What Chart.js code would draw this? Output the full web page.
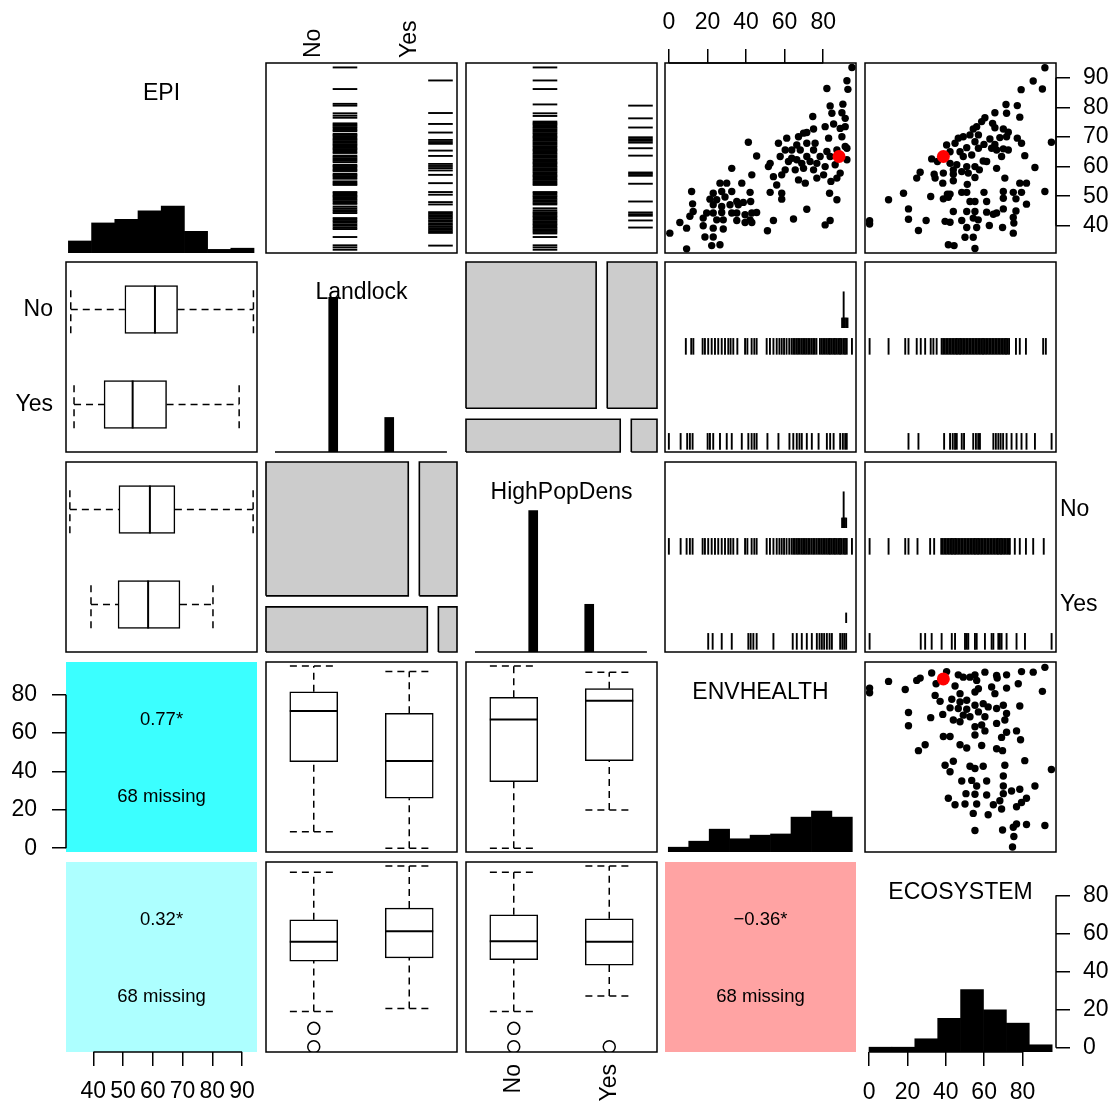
<!DOCTYPE html>
<html>
<head>
<meta charset="utf-8">
<title>EPI generalized pairs plot</title>
<script src="https://cdn.jsdelivr.net/npm/chart.js"></script>
<style>
  html, body { margin: 0; padding: 0; background: #fff; overflow: hidden; }
  #wrap { position: relative; width: 1116px; height: 1108px; overflow: hidden; background: #fff; }
  #wrap canvas { position: absolute; }
</style>
</head>
<body>
<div id="wrap"></div>
<script>
// ---------- data ----------
const yesNo = ["No", "Yes"];
const epiTicks = [40, 50, 60, 70, 80, 90];
const scoreTicks = [0, 20, 40, 60, 80];
const epiRange = [30.8, 95.0];
const envRange = [-2, 97];
const ecoRange = [-2.2, 97.5];

// histograms on the diagonal
const epiBreaks = [31.6, 39.4, 47.2, 55.0, 62.8, 70.6, 78.4, 86.2, 94.0];
const epiCounts = [10, 25, 28, 35, 39, 18, 3, 4];
const envBreaks = [-0.3, 10.3, 20.9, 31.5, 42.1, 52.7, 63.3, 73.9, 84.5, 95.1];
const envCounts = [4, 9, 19, 11, 14, 15, 29, 34, 29];
const ecoBreaks = [-0.1, 11.85, 23.8, 35.75, 47.7, 59.65, 71.6, 83.55, 95.5];
const ecoCounts = [4, 4, 11, 28, 52, 35, 24, 6];

// factor counts and the Landlock x HighPopDens table (rows Landlock, cols HighPopDens)
const landlockCounts = [188, 42];
const popDensCounts = [172, 58];
const landlockByPopDens = [[136, 52], [36, 6]];

// correlations
const corrEpiEnv = 0.77, corrEpiEco = 0.32, corrEnvEco = -0.36;
const missingCount = 68;

// highlighted country
const hiEpi = 63.4, hiEnv = 88.2, hiEco = 38.7;

// box plots: [lower whisker, q1, median, q3, upper whisker], per level No / Yes
const epiByLandlock = [[32.4, 50.6, 60.7, 68.3, 93.8], [33.5, 43.6, 53.2, 64.6, 89.0]];
const epiByPopDens = [[32.1, 48.6, 59.0, 67.4, 93.7], [39.2, 48.3, 58.4, 69.1, 80.2]];
const envByLandlock = [[8.6, 45.1, 71.5, 81.5, 94.9], [0.0, 26.0, 45.4, 70.3, 92.0]];
const envByPopDens = [[0.0, 34.6, 67.1, 78.6, 94.9], [19.9, 45.6, 76.8, 83.1, 91.6]];
const ecoByLandlock = [[19.0, 45.5, 55.6, 67.2, 92.1], [20.6, 47.2, 61.1, 73.3, 95.4]];
const ecoByPopDens = [[19.0, 46.3, 55.9, 69.8, 92.1], [27.2, 43.4, 55.6, 67.7, 95.4]];
const ecoOutByLandlock = [[10.2, 0.6], []];
const ecoOutByPopDens = [[10.2, 0.6], [0.6]];

// barcodes: EPI by factor
const epiLandNo = [93.5, 86.2, 81.2, 80.6, 78.0, 77.2, 76.5,
  74.6, 74.2, 73.8, 73.3, 72.9, 72.4, 72.0, 71.1, 70.7, 70.3, 69.8, 69.4, 69.0, 68.5, 68.1, 67.6, 67.2,
  66.8, 66.3, 65.9, 65.5, 65.0, 64.6, 63.7, 63.3, 62.8, 62.4, 62.0, 61.5, 60.6, 60.2, 59.8, 59.3, 58.9,
  58.5, 57.6, 57.2, 56.8, 56.3, 55.9, 55.0, 54.6, 54.2, 53.8,
  51.4, 51.0, 50.5, 50.1, 49.7, 49.2, 48.8, 48.3, 47.8, 47.4,
  46.5, 45.9, 45.3, 44.8, 44.3,
  42.6, 42.1, 41.6, 41.1, 40.5, 40.0, 39.4, 38.9,
  36.2, 33.4, 32.7, 31.9];
const epiLandYes = [89.1, 78.1, 74.4, 71.5, 69.0, 68.3, 67.7, 65.4, 63.6, 60.9, 60.2, 59.5, 58.7, 57.2,
  54.4, 51.4, 50.5, 48.0, 47.2, 44.6, 44.1, 43.6, 43.0, 42.5, 41.9, 41.4, 40.8, 40.3, 39.7, 39.2, 38.6,
  38.1, 37.6, 33.3];
const epiPopNo = [93.5, 89.1, 86.2, 81.0, 78.0, 77.1,
  75.2, 74.8, 74.4, 74.0, 73.5, 73.1, 72.6, 72.2, 71.8, 71.3, 70.9, 70.4, 70.0, 69.6, 69.1, 68.7, 68.2,
  67.8, 67.4, 66.9, 66.5, 66.0, 65.6, 65.2, 64.7, 64.3, 63.8, 63.4, 63.0, 62.5, 62.1, 61.6, 61.2, 60.8,
  60.3, 59.9, 59.4, 59.0, 58.6, 58.1, 57.7, 57.2, 56.8, 56.4, 55.9, 55.5, 55.0, 54.6, 54.2, 53.8,
  51.4, 51.0, 50.5, 50.0, 49.6, 49.1, 48.6, 48.1, 47.6, 47.2,
  45.9, 45.2, 44.6, 44.2, 43.8, 43.3, 42.9, 42.4, 42.0, 41.5, 41.1, 40.6, 40.2, 39.7, 39.3, 38.8, 38.4,
  37.9, 37.4, 36.2, 33.4, 32.7, 31.9];
const epiPopYes = [80.6, 76.3, 73.2, 69.9, 69.3, 68.7, 68.1, 66.2, 63.7, 58.0, 57.5, 56.9, 54.2, 48.2,
  44.5, 43.9, 43.4, 41.8, 39.4];

// barcodes: ENVHEALTH / ECOSYSTEM by factor (stack2/stack3 are tied values piled above)
const envLandNo = [8.8, 11.6, 12.7, 17.5, 18.7, 20.4, 22.2, 23.9, 25.6, 27.4, 29.1, 30.8, 32.0, 33.4, 35.5,
  39.5, 40.7, 42.9, 44.3, 45.5, 50.7, 52.4, 54.2, 55.9, 57.3, 58.5, 59.7, 61.0, 62.4, 63.6, 64.5, 65.3,
  66.2, 67.0, 67.9, 68.8, 69.6, 70.5, 71.3, 72.2, 73.0, 73.9, 74.8, 75.6, 76.5, 78.3, 79.2, 80.0, 80.9,
  81.8, 82.6, 83.5, 84.4, 85.2, 86.1, 87.0, 87.8, 88.7, 89.5, 90.4, 91.3, 92.2, 94.9];
const envLandNoStack2 = [89.8, 90.5, 91.2, 91.9, 92.6];
const envLandNoStack3 = [90.6];
const envLandYes = [0.0, 6.1, 9.5, 10.9, 12.3, 20.1, 21.3, 23.0, 26.5, 30.0, 32.6, 37.8, 41.2, 42.9, 44.3,
  45.5, 51.1, 56.8, 62.5, 64.5, 66.3, 67.7, 68.9, 71.5, 74.1, 77.6, 81.9, 83.6, 85.4, 88.8, 90.2, 91.4, 92.2];
const ecoLandNo = [0.2, 10.1, 18.8, 20.5, 24.8, 26.9, 29.2, 32.1, 33.5, 35.2,
  37.8, 38.6, 39.4, 40.2, 41.0, 41.8, 42.6, 43.4, 44.2, 45.0, 45.8, 46.6, 47.4, 48.2, 49.0, 49.8, 50.6,
  51.4, 52.2, 53.0, 53.8, 54.6, 55.4, 56.2, 57.0, 57.8, 58.6, 59.4, 60.2, 61.0, 61.8, 62.6, 63.4, 64.2,
  65.0, 65.8, 66.6, 67.4, 68.2, 69.0, 69.8, 70.6, 71.4, 72.2, 73.0,
  76.6, 78.6, 81.8, 90.8, 92.2];
const ecoLandYes = [20.5, 25.7, 39.1, 42.2, 43.6, 44.8, 45.7, 48.3, 49.5, 54.3, 55.7, 56.9, 57.8, 64.8, 66.1,
  67.4, 68.6, 69.9, 71.7, 74.3, 76.9, 79.5, 82.1, 86.5, 95.2];
const envPopNo = [0.0, 6.1, 9.2, 10.9, 12.3, 17.5, 18.7, 20.4, 22.2, 23.9, 25.6, 27.4, 29.1, 30.8, 32.0,
  33.4, 35.5, 39.5, 40.7, 42.9, 44.3, 45.5, 50.7, 52.4, 54.2, 55.9, 57.3, 58.5, 59.7, 61.0, 62.4, 63.6,
  64.5, 65.3, 66.2, 67.0, 67.9, 68.8, 69.6, 70.5, 71.3, 72.2, 73.0, 73.9, 74.8, 75.6, 76.5, 77.4, 78.3,
  79.2, 80.0, 80.9, 81.8, 82.6, 83.5, 84.4, 85.2, 86.1, 87.0, 87.8, 88.7, 89.5, 90.4, 91.3, 92.2, 94.9];
const envPopNoStack2 = [89.8, 90.5, 91.2, 91.9];
const envPopNoStack3 = [90.6];
const envPopYes = [20.4, 22.7, 27.4, 32.6, 41.2, 42.4, 43.8, 45.5, 54.2, 64.2, 66.3, 68.9, 71.5, 74.1, 76.7,
  78.1, 79.3, 80.5, 81.9, 83.3, 84.5, 88.8, 89.9, 90.9, 91.9];
const envPopYesStack2 = [91.9];
const ecoPopNo = [0.2, 10.1, 18.8, 20.5, 25.2, 31.8, 33.9,
  37.6, 38.4, 39.2, 40.0, 40.8, 41.6, 42.4, 43.2, 44.0, 44.8, 45.6, 46.4, 47.2, 48.0, 48.8, 49.6, 50.4,
  51.2, 52.0, 52.8, 53.6, 54.4, 55.2, 56.0, 56.8, 57.6, 58.4, 59.2, 60.0, 60.8, 61.6, 62.4, 63.2, 64.0,
  64.8, 65.6, 66.4, 67.2, 68.0, 68.8, 69.6, 70.4, 71.2, 72.0, 72.8, 73.4,
  76.0, 78.6, 81.8, 85.6, 91.1];
const ecoPopYes = [0.2, 26.9, 29.2, 32.6, 37.8, 43.1, 44.8, 50.0, 50.9, 51.7, 55.2, 56.1, 60.4, 63.9, 64.8,
  67.4, 68.2, 69.1, 71.7, 76.9, 81.3, 95.2];

// scatter points [x, y]
const envEpiPoints = [[94.9,93.5],[92.3,89.0],[92.8,86.1],[81.9,86.4],[83.6,80.5],[90.2,81.1],[89.7,78.2],
  [91.4,76.3],[84.5,78.0],[74.6,76.9],[81.0,73.5],[85.4,74.4],[88.8,72.9],[91.4,73.5],[75.0,72.7],[69.8,71.3],
  [71.5,71.5],[67.2,70.1],[61.1,69.6],[56.8,67.9],[41.2,68.2],[82.8,69.6],[89.7,70.1],[91.4,66.8],[66.3,67.3],
  [71.5,67.9],[75.8,67.9],[63.7,65.6],[60.3,65.6],[68.1,65.6],[75.0,65.6],[81.9,65.1],[87.1,65.6],[92.3,66.2],
  [57.7,63.4],[63.7,62.8],[71.5,63.4],[78.4,63.4],[83.6,63.4],[66.3,62.3],[73.2,61.7],[76.7,61.1],[62.0,61.7],
  [68.9,61.1],[52.5,61.1],[45.5,63.6],[81.0,60.0],[86.2,60.6],[92.3,62.3],[60.3,58.9],[65.5,58.9],[69.8,59.4],
  [75.0,58.9],[80.2,57.2],[88.8,57.8],[51.6,60.0],[54.2,56.6],[58.5,57.2],[67.2,55.5],[76.7,56.1],[87.1,56.1],
  [55.9,53.8],[70.7,54.4],[32.6,59.4],[43.0,57.2],[26.5,54.4],[30.0,54.4],[37.8,54.4],[11.8,51.6],[23.0,51.0],
  [27.4,51.6],[32.6,51.6],[42.1,51.3],[52.5,51.3],[58.5,51.0],[21.3,49.0],[24.8,48.8],[29.1,49.7],[35.2,48.2],
  [38.6,47.9],[42.4,48.2],[58.5,49.0],[83.3,51.0],[87.1,48.8],[12.3,47.4],[23.0,47.1],[27.4,46.5],[31.7,47.1],
  [36.0,47.1],[45.5,44.5],[71.5,45.6],[12.6,44.8],[19.6,44.3],[23.0,44.3],[27.4,44.5],[32.6,44.3],[35.2,44.3],
  [39.5,43.7],[43.0,44.3],[10.9,43.2],[17.8,42.6],[24.8,42.0],[28.2,42.0],[35.2,41.8],[42.1,42.0],[64.6,42.3],
  [54.2,41.8],[5.7,41.1],[0.5,37.5],[9.2,39.2],[17.8,40.0],[23.0,39.2],[28.2,38.9],[39.5,41.1],[43.0,41.1],
  [18.7,36.2],[23.0,36.2],[22.2,33.3],[26.5,33.6],[9.2,32.2],[51.1,38.3],[81.0,40.3],[83.6,41.8],[84.0,55.0]];
const ecoEpiPoints = [[91.7,93.4],[85.6,88.9],[90.4,86.2],[79.3,86.0],[71.4,81.0],[77.3,80.6],[78.6,76.7],
  [65.6,78.2],[71.7,78.0],[60.4,76.5],[58.7,75.2],[64.4,74.6],[56.1,73.5],[54.3,72.7],[70.0,72.7],[65.6,73.1],
  [72.6,71.6],[52.6,70.7],[49.1,70.1],[57.0,70.7],[63.0,69.3],[68.2,69.8],[71.7,70.1],[77.3,69.6],[79.5,67.9],
  [46.5,69.6],[44.8,67.9],[40.4,67.3],[55.2,68.4],[59.9,67.5],[65.6,67.5],[70.0,66.0],[63.9,66.2],[57.0,66.2],
  [50.9,66.4],[47.4,65.0],[42.2,65.0],[53.5,63.9],[49.1,63.4],[32.6,62.6],[35.6,61.7],[59.5,61.9],[69.1,63.4],
  [81.2,63.7],[42.2,61.1],[45.7,60.6],[50.9,60.0],[55.2,60.0],[61.3,61.7],[66.5,59.4],[43.9,58.9],[48.3,58.3],
  [57.5,58.9],[33.9,57.4],[38.7,57.8],[43.9,57.4],[51.7,57.8],[86.5,59.7],[26.6,58.1],[24.8,56.1],[34.4,56.1],
  [38.4,54.4],[43.9,55.2],[55.2,56.3],[70.8,56.1],[51.2,54.0],[78.6,54.4],[82.1,54.4],[17.9,51.0],[32.1,49.9],
  [40.8,50.7],[42.2,50.7],[48.3,51.3],[50.9,51.3],[59.9,51.3],[70.0,51.6],[75.2,51.3],[79.5,51.3],[91.7,51.6],
  [10.1,48.8],[38.7,49.1],[41.3,49.6],[52.6,48.2],[55.2,48.2],[61.3,48.2],[70.0,49.3],[76.6,49.1],[82.1,47.3],
  [20.5,45.7],[43.9,44.8],[50.9,44.8],[55.2,44.8],[61.3,44.6],[66.5,44.3],[70.0,45.7],[76.6,45.0],[20.5,42.2],
  [29.7,41.8],[39.6,41.5],[42.2,41.2],[48.3,41.8],[54.3,42.6],[56.9,42.0],[64.8,43.9],[75.2,42.8],[0.2,41.7],
  [0.2,40.6],[25.7,38.4],[50.9,39.4],[56.1,39.4],[62.7,40.1],[69.6,39.4],[75.5,40.9],[75.2,37.5],[50.0,36.1],
  [54.3,36.1],[41.3,33.6],[44.3,33.3],[55.2,32.3],[95.1,68.2],[66.5,65.6],[72.6,65.6]];
const ecoEnvPoints = [[91.7,94.2],[85.6,91.7],[79.5,92.0],[71.7,90.3],[66.5,90.0],[60.4,91.7],[55.2,90.3],
  [52.6,89.1],[49.1,89.1],[46.5,90.3],[40.4,92.0],[32.6,91.3],[26.6,88.6],[24.8,87.4],[10.1,86.9],[0.2,83.4],
  [0.2,81.0],[18.8,82.7],[34.9,85.7],[44.8,84.5],[56.1,87.4],[57.0,83.1],[55.2,81.4],[63.9,84.0],[65.6,80.5],
  [71.7,83.4],[77.8,85.7],[90.4,81.7],[66.8,88.6],[34.4,79.6],[37.0,76.5],[43.1,77.6],[47.4,80.5],[47.4,76.2],
  [50.9,77.1],[42.2,73.1],[46.5,72.8],[50.9,72.4],[55.2,74.5],[59.5,75.3],[62.1,73.6],[66.5,72.8],[70.0,74.5],
  [71.7,70.2],[78.6,74.1],[49.1,69.3],[52.6,68.5],[57.0,71.0],[60.4,68.5],[66.5,65.0],[70.8,66.8],[43.9,66.8],
  [20.5,70.7],[38.4,69.7],[32.1,68.0],[20.5,63.8],[55.2,63.3],[58.7,64.2],[60.4,61.1],[55.2,59.0],[71.7,60.4],
  [76.9,61.1],[38.7,58.2],[42.2,58.2],[69.1,57.7],[79.0,56.5],[29.2,53.9],[25.7,50.8],[47.4,53.9],[50.9,52.2],
  [58.7,53.5],[66.5,51.8],[69.6,50.8],[81.2,45.6],[43.9,45.3],[39.6,43.2],[42.2,39.8],[52.6,42.7],[55.2,41.5],
  [59.5,42.7],[70.8,43.2],[95.1,41.0],[48.3,35.0],[53.5,35.3],[56.1,32.4],[61.3,35.0],[70.0,37.6],[70.0,32.4],
  [74.3,29.8],[78.6,30.7],[86.5,32.4],[41.3,26.0],[50.5,28.4],[55.2,28.1],[61.3,27.7],[70.0,28.4],[82.1,26.0],
  [44.8,22.6],[50.0,23.0],[56.1,23.0],[64.8,22.6],[69.1,20.4],[76.9,21.6],[79.5,23.8],[54.3,18.1],[62.1,17.4],
  [68.2,24.7],[55.2,9.2],[69.6,9.5],[75.2,10.9],[76.9,12.6],[82.1,12.3],[91.7,11.8],[75.5,6.1],[74.8,0.6],
  [47.4,65.9]];

// ---------- layout & style ----------
Chart.defaults.font.family = '"Liberation Sans", Arial, Helvetica, sans-serif';
Chart.defaults.color = '#000';
Chart.defaults.animation = false;

const COLS = [66, 266, 466, 665, 865];
const ROWS = [63, 262, 462, 662, 862];
const PW = 191, PH = 190;
const M = 70;      // canvas margin around a panel
const AX = 60;     // room given to a visible axis
const FONT = 23;
const SMALL = 18.5;
const countRange = [0, 158];
const barRange = [-1.2, 2.21];
const barCountRange = [0, 231];
const BASELINE = [-1.04, 2.03];
const MOSAIC_GAP = 0.058;
const BOX_PX = 48, CAP = 0.25;
const V_LAYERS = [{mid: 0.112, r: 8.3}, {mid: 0.36, r: 5.2}, {mid: 0.55, r: 13.3}];
const H_MID = 0.827, H_R = 12.3;
const CODE_W = 1.9;                 // barcode stroke width
const TOP_ROT_SHIFT = FONT * 1.2;   // chart.js pushes rotated top labels one line left

// ---------- plugins ----------
Chart.register({
  id: 'panelBox',
  beforeDatasetsDraw(chart, args, opts) {
    if (!opts.show) return;
    const {ctx, chartArea: a} = chart;
    ctx.save();
    ctx.strokeStyle = '#000'; ctx.lineWidth = 1.5;
    ctx.strokeRect(a.left, a.top, a.width, a.height);
    ctx.restore();
  }
});
Chart.register({
  id: 'axisLine',   // R style axis line, from first to last tick only
  afterDraw(chart) {
    const {ctx, chartArea: a} = chart;
    Object.values(chart.scales).forEach(s => {
      if (!s.options.display || !s.options.grid.drawTicks || !s.ticks.length) return;
      const p0 = s.getPixelForValue(s.ticks[0].value);
      const p1 = s.getPixelForValue(s.ticks[s.ticks.length - 1].value);
      ctx.save();
      ctx.strokeStyle = '#000'; ctx.lineWidth = 1.5;
      ctx.beginPath();
      if (s.isHorizontal()) {
        const y = s.position === 'top' ? a.top : a.bottom;
        ctx.moveTo(p0, y); ctx.lineTo(p1, y);
      } else {
        const x = s.position === 'left' ? a.left : a.right;
        ctx.moveTo(x, p0); ctx.lineTo(x, p1);
      }
      ctx.stroke();
      ctx.restore();
    });
  }
});
Chart.register({
  id: 'panelText',
  afterDatasetsDraw(chart, args, opts) {
    const {ctx, chartArea: a} = chart;
    (opts.items || []).forEach(t => {
      ctx.save();
      ctx.fillStyle = '#000';
      ctx.font = t.size + 'px "Liberation Sans", Arial, sans-serif';
      ctx.textAlign = 'center'; ctx.textBaseline = 'middle';
      ctx.fillText(t.text, a.left + t.fx * a.width, a.top + t.fy * a.height);
      ctx.restore();
    });
  }
});

// ---------- scales ----------
function axisFit(s) { if (s.isHorizontal()) s.height = AX; else s.width = AX; }

function hiddenAxis(axis, range) {
  return { axis, type: 'linear', display: false, min: range[0], max: range[1], offset: false,
    grid: {offset: false}, afterBuildTicks: s => { s.ticks = []; } };
}

function numberAxis(axis, position, range, ticks, padding) {
  return { axis, type: 'linear', position, min: range[0], max: range[1], offset: false,
    afterBuildTicks: s => { s.ticks = ticks.map(v => ({value: v})); },
    afterFit: axisFit,
    border: {display: false},
    grid: {offset: false, drawOnChartArea: false, drawTicks: true, tickLength: 14, color: '#000', lineWidth: 1.5},
    ticks: {padding, autoSkip: false, maxRotation: 0, minRotation: 0, color: '#000', font: {size: FONT}} };
}

// one band of width 1 per level; first level on the left (x) or at the top (y)
function bandPos(i, n, axis) { return axis === 'x' ? i + 0.5 : n - i - 0.5; }

function bandAxis(axis, position, levels, padding = 0, rotate = false) {
  const n = levels.length;
  const order = levels.map((l, i) => ({v: bandPos(i, n, axis), l})).sort((a, b) => a.v - b.v);
  if (!position) {
    return { axis, type: 'linear', min: 0, max: n, offset: false, display: false,
      grid: {offset: false}, afterBuildTicks: s => { s.ticks = []; } };
  }
  return { axis, type: 'linear', min: 0, max: n, offset: false, position,
    afterBuildTicks: s => { s.ticks = order.map(o => ({value: o.v})); },
    afterFit: axisFit,
    border: {display: false},
    grid: {display: false, drawTicks: false, tickLength: 0, offset: false},
    ticks: {padding, autoSkip: false, minRotation: rotate ? 90 : 0, maxRotation: rotate ? 90 : 0,
            labelOffset: rotate && position === 'top' ? TOP_ROT_SHIFT : 0,
            color: '#000', font: {size: FONT}, callback: (v, i) => order[i].l} };
}

const cellAxis = {type: 'category', display: false, offset: true, grid: {offset: true}};

// ---------- dataset builders ----------
function histSets(breaks, counts, yAxisID = 'y') {
  return [{ type: 'bar', yAxisID, backgroundColor: '#000', borderWidth: 0, barPercentage: 1,
    categoryPercentage: 1, grouped: false,
    data: counts.map((n, i) => ({x: (breaks[i] + breaks[i + 1]) / 2, y: n})) }];
}

function countSets(counts) {
  return [
    { type: 'bar', backgroundColor: '#000', borderWidth: 0, barThickness: 9, grouped: false,
      data: counts.map((n, i) => ({x: i, y: n})) },
    { type: 'line', borderColor: '#000', borderWidth: 1.3, pointRadius: 0, clip: false,
      data: [{x: BASELINE[0], y: 0}, {x: BASELINE[1], y: 0}] }
  ];
}

function scatterSets(points, hi) {
  return [
    { type: 'scatter', order: 0, data: [{x: hi[0], y: hi[1]}], pointStyle: 'circle',
      pointBackgroundColor: '#ff0000', pointBorderWidth: 0, pointRadius: 6.5 },
    { type: 'scatter', order: 1, data: points.map(p => ({x: p[0], y: p[1]})), pointStyle: 'circle',
      pointBackgroundColor: '#000', pointBorderWidth: 0, pointRadius: 3.7 }
  ];
}

// vertical barcodes; groups[i] = [base values, stacked layer 2, stacked layer 3]
function barcodeV(groups) {
  const sets = [];
  groups.forEach((layers, i) => layers.forEach((vals, k) => {
    if (!vals || !vals.length) return;
    const y = bandPos(i, groups.length, 'y') - 0.5 + V_LAYERS[k].mid;
    sets.push({ type: 'scatter', data: vals.map(v => ({x: v, y})), pointStyle: 'line', pointRotation: 90,
      pointRadius: V_LAYERS[k].r, pointBorderWidth: CODE_W, pointBorderColor: '#000', borderColor: '#000' });
  }));
  return sets;
}

// horizontal barcodes (EPI on y)
function barcodeH(groups) {
  return groups.map((vals, i) => {
    const x = bandPos(i, groups.length, 'x') - 0.5 + H_MID;
    return { type: 'scatter', data: vals.map(v => ({x, y: v})), pointStyle: 'line', pointRotation: 0,
      pointRadius: H_R, pointBorderWidth: CODE_W, pointBorderColor: '#000', borderColor: '#000' };
  });
}

function boxplotSets(stats, outs, horizontal) {
  const n = stats.length;
  const axis = horizontal ? 'y' : 'x';
  const P = (g, v) => horizontal ? {x: v, y: g} : {x: g, y: v};
  const sets = [
    { type: 'bar', order: 3, grouped: false, barThickness: BOX_PX, borderSkipped: false,
      backgroundColor: '#fff', borderColor: '#000', borderWidth: 1.5,
      data: stats.map((s, i) => {
        const g = bandPos(i, n, axis);
        return horizontal ? {y: g, x: [s[1], s[3]]} : {x: g, y: [s[1], s[3]]};
      }) },
    { type: 'scatter', order: 1, pointStyle: 'line', pointRadius: BOX_PX / 2, pointRotation: horizontal ? 90 : 0,
      pointBorderWidth: 2, pointBorderColor: '#000', borderColor: '#000',
      data: stats.map((s, i) => P(bandPos(i, n, axis), s[2])) }
  ];
  const dash = { type: 'line', order: 2, borderColor: '#000', borderWidth: 1.5, borderDash: [7, 5],
    pointRadius: 0, fill: false, clip: false };
  stats.forEach((s, i) => {
    const g = bandPos(i, n, axis);
    sets.push({...dash, data: [P(g, s[0]), P(g, s[1])]});
    sets.push({...dash, data: [P(g, s[3]), P(g, s[4])]});
    sets.push({...dash, data: [P(g - CAP, s[0]), P(g + CAP, s[0])]});
    sets.push({...dash, data: [P(g - CAP, s[4]), P(g + CAP, s[4])]});
  });
  if (outs) {
    sets.push({ type: 'scatter', order: 0, pointStyle: 'circle', pointRadius: 6, pointBorderWidth: 1.5,
      pointBorderColor: '#000', pointBackgroundColor: 'rgba(0,0,0,0)',
      data: outs.flatMap((vals, i) => vals.map(v => P(bandPos(i, n, axis), v))) });
  }
  return sets;
}

// mosaic: table[i][j], i = level on y (top first), j = level on x (left first)
function mosaicSets(table) {
  const total = table.flat().reduce((a, b) => a + b, 0);
  const sets = [];
  let top = 1;
  table.forEach(row => {
    const rowN = row.reduce((a, b) => a + b, 0);
    const h = (1 - MOSAIC_GAP) * rowN / total;
    let left = 0;
    row.forEach(v => {
      const w = (1 - MOSAIC_GAP) * v / rowN;
      const x0 = left, x1 = left + w, y0 = top - h, y1 = top;
      sets.push({ type: 'line', fill: 'shape', backgroundColor: '#CCCCCC', borderColor: '#000', borderWidth: 1.6,
        pointRadius: 0, tension: 0, clip: false,
        data: [{x: x0, y: y0}, {x: x1, y: y0}, {x: x1, y: y1}, {x: x0, y: y1}, {x: x0, y: y0}] });
      left += w + MOSAIC_GAP;
    });
    top -= h + MOSAIC_GAP;
  });
  return sets;
}

function transpose(t) { return t[0].map((_, j) => t.map(r => r[j])); }

function corrColor(r) {
  return r >= 0 ? `rgb(${Math.round(255 * (1 - r))},255,255)`
                : `rgb(255,${Math.round(255 * (1 + r))},${Math.round(255 * (1 + r))})`;
}
function corrSets(r) {
  return [{ type: 'bar', data: [1], backgroundColor: corrColor(r), borderWidth: 0,
    barPercentage: 1, categoryPercentage: 1 }];
}
function corrText(r) {
  const s = (r < 0 ? '\u2212' : '') + Math.abs(r).toFixed(2) + '*';
  return [{text: s, fx: 0.5, fy: 0.305, size: SMALL},
          {text: missingCount + ' missing', fx: 0.5, fy: 0.71, size: SMALL}];
}
function nameText(s) { return {text: s, fx: 0.5, fy: 0.163, size: FONT}; }

// ---------- panels ----------
const wrap = document.getElementById('wrap');
function panel(r, c, type, datasets, scales, extra = {}) {
  const cv = document.createElement('canvas');
  cv.width = PW + 2 * M; cv.height = PH + 2 * M;
  cv.style.left = (COLS[c] - M) + 'px';
  cv.style.top = (ROWS[r] - M) + 'px';
  wrap.appendChild(cv);
  const side = {left: M, right: M, top: M, bottom: M};
  Object.values(scales).forEach(s => { if (s.display !== false && s.position) side[s.position] = M - AX; });
  return new Chart(cv, {
    type,
    data: extra.labels ? {labels: extra.labels, datasets} : {datasets},
    options: {
      responsive: false, animation: false, events: [],
      indexAxis: extra.indexAxis || 'x',
      layout: {autoPadding: false, padding: side},
      scales,
      plugins: {
        legend: {display: false}, tooltip: {enabled: false},
        panelBox: {show: !!extra.box},
        panelText: {items: extra.text || []}
      }
    }
  });
}

// row 1: EPI
panel(0, 0, 'bar', histSets(epiBreaks, epiCounts),
  {x: hiddenAxis('x', epiRange), y: hiddenAxis('y', countRange)}, {text: [nameText('EPI')]});
panel(0, 1, 'scatter', barcodeH([epiLandNo, epiLandYes]),
  {x: bandAxis('x', 'top', yesNo, 5, true), y: hiddenAxis('y', epiRange)}, {box: true});
panel(0, 2, 'scatter', barcodeH([epiPopNo, epiPopYes]),
  {x: bandAxis('x', null, yesNo), y: hiddenAxis('y', epiRange)}, {box: true});
panel(0, 3, 'scatter', scatterSets(envEpiPoints, [hiEnv, hiEpi]),
  {x: numberAxis('x', 'top', envRange, scoreTicks, 13), y: hiddenAxis('y', epiRange)}, {box: true});
panel(0, 4, 'scatter', scatterSets(ecoEpiPoints, [hiEco, hiEpi]),
  {x: hiddenAxis('x', ecoRange), y: numberAxis('y', 'right', epiRange, epiTicks, 13)}, {box: true});

// row 2: Landlock
panel(1, 0, 'bar', boxplotSets(epiByLandlock, null, true),
  {x: hiddenAxis('x', epiRange), y: bandAxis('y', 'left', yesNo, 13)}, {box: true, indexAxis: 'y'});
panel(1, 1, 'bar', countSets(landlockCounts),
  {x: hiddenAxis('x', barRange), y: hiddenAxis('y', barCountRange)}, {text: [nameText('Landlock')]});
panel(1, 2, 'scatter', mosaicSets(landlockByPopDens),
  {x: hiddenAxis('x', [0, 1]), y: hiddenAxis('y', [0, 1])});
panel(1, 3, 'scatter', barcodeV([[envLandNo, envLandNoStack2, envLandNoStack3], [envLandYes]]),
  {x: hiddenAxis('x', envRange), y: bandAxis('y', null, yesNo)}, {box: true});
panel(1, 4, 'scatter', barcodeV([[ecoLandNo], [ecoLandYes]]),
  {x: hiddenAxis('x', ecoRange), y: bandAxis('y', null, yesNo)}, {box: true});

// row 3: HighPopDens
panel(2, 0, 'bar', boxplotSets(epiByPopDens, null, true),
  {x: hiddenAxis('x', epiRange), y: bandAxis('y', null, yesNo)}, {box: true, indexAxis: 'y'});
panel(2, 1, 'scatter', mosaicSets(transpose(landlockByPopDens)),
  {x: hiddenAxis('x', [0, 1]), y: hiddenAxis('y', [0, 1])});
panel(2, 2, 'bar', countSets(popDensCounts),
  {x: hiddenAxis('x', barRange), y: hiddenAxis('y', barCountRange)}, {text: [nameText('HighPopDens')]});
panel(2, 3, 'scatter', barcodeV([[envPopNo, envPopNoStack2, envPopNoStack3], [envPopYes, envPopYesStack2]]),
  {x: hiddenAxis('x', envRange), y: bandAxis('y', null, yesNo)}, {box: true});
panel(2, 4, 'scatter', barcodeV([[ecoPopNo], [ecoPopYes]]),
  {x: hiddenAxis('x', ecoRange), y: bandAxis('y', 'right', yesNo, 4)}, {box: true});

// row 4: ENVHEALTH
panel(3, 0, 'bar', corrSets(corrEpiEnv),
  {x: cellAxis, y: hiddenAxis('y', [0, 1]), yEnv: numberAxis('y', 'left', envRange, scoreTicks, 15)},
  {labels: ['r'], text: corrText(corrEpiEnv)});
panel(3, 1, 'bar', boxplotSets(envByLandlock, null, false),
  {x: bandAxis('x', null, yesNo), y: hiddenAxis('y', envRange)}, {box: true});
panel(3, 2, 'bar', boxplotSets(envByPopDens, null, false),
  {x: bandAxis('x', null, yesNo), y: hiddenAxis('y', envRange)}, {box: true});
panel(3, 3, 'bar', histSets(envBreaks, envCounts),
  {x: hiddenAxis('x', envRange), y: hiddenAxis('y', countRange)}, {text: [nameText('ENVHEALTH')]});
panel(3, 4, 'scatter', scatterSets(ecoEnvPoints, [hiEco, hiEnv]),
  {x: hiddenAxis('x', ecoRange), y: hiddenAxis('y', envRange)}, {box: true});

// row 5: ECOSYSTEM
panel(4, 0, 'bar', corrSets(corrEpiEco),
  {x: cellAxis, y: hiddenAxis('y', [0, 1]), xEpi: numberAxis('x', 'bottom', epiRange, epiTicks, 12)},
  {labels: ['r'], text: corrText(corrEpiEco)});
panel(4, 1, 'bar', boxplotSets(ecoByLandlock, ecoOutByLandlock, false),
  {x: bandAxis('x', null, yesNo), y: hiddenAxis('y', ecoRange)}, {box: true});
panel(4, 2, 'bar', boxplotSets(ecoByPopDens, ecoOutByPopDens, false),
  {x: bandAxis('x', 'bottom', yesNo, 12, true), y: hiddenAxis('y', ecoRange)}, {box: true});
panel(4, 3, 'bar', corrSets(corrEnvEco),
  {x: cellAxis, y: hiddenAxis('y', [0, 1])}, {labels: ['r'], text: corrText(corrEnvEco)});
panel(4, 4, 'bar', histSets(ecoBreaks, ecoCounts, 'yCount'),
  {x: numberAxis('x', 'bottom', ecoRange, scoreTicks, 13),
   yEco: numberAxis('y', 'right', ecoRange, scoreTicks, 13),
   yCount: hiddenAxis('y', countRange)},
  {text: [nameText('ECOSYSTEM')]});
</script>
</body>
</html>
